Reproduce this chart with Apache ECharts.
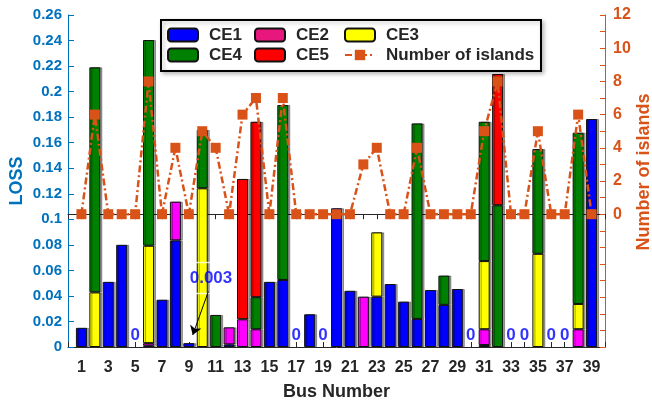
<!DOCTYPE html>
<html>
<head>
<meta charset="utf-8">
<script src="https://cdn.jsdelivr.net/npm/echarts@6/dist/echarts.min.js"></script>
<style>
  html, body { margin: 0; padding: 0; background: #fff; }
  #chart { width: 652px; height: 404px; }
</style>
</head>
<body>
<div id="chart"></div>
<script>
// bus numbers on the x axis
const buses = [1, 2, 3, 4, 5, 6, 7, 8, 9, 10, 11, 12, 13, 14, 15, 16, 17, 18, 19, 20,
  21, 22, 23, 24, 25, 26, 27, 28, 29, 30, 31, 32, 33, 34, 35, 36, 37, 38, 39]

// stacked loss segments per bus (CE1 at the bottom ... CE5 on top)
const ce1 = [0.015, 0, 0.051, 0.080, 0, 0.001, 0.037, 0.0835, 0.003, 0, 0, 0.002, 0, 0, 0.051, 0.0525, 0, 0.0256, 0, 0.1086,
  0.044, 0, 0.0394, 0.0493, 0.0355, 0.022, 0.0446, 0.033, 0.0454, 0, 0.0015, 0, 0, 0, 0, 0, 0, 0, 0.1785]
const ce2 = [0, 0, 0, 0, 0, 0.002, 0, 0.0303, 0, 0, 0, 0.0134, 0.0217, 0.0139, 0, 0, 0, 0, 0, 0,
  0, 0.0394, 0, 0, 0, 0, 0, 0, 0, 0, 0.0124, 0, 0, 0, 0, 0, 0, 0.0139, 0]
const ce3 = [0, 0.0428, 0, 0, 0, 0.0763, 0, 0, 0, 0.1243, 0, 0, 0, 0, 0, 0, 0, 0, 0, 0,
  0, 0, 0.0504, 0, 0, 0, 0, 0, 0, 0, 0.0534, 0, 0, 0, 0.073, 0, 0, 0.0198, 0]
const ce4 = [0, 0.1762, 0, 0, 0, 0.1611, 0, 0, 0, 0.0457, 0.0251, 0, 0, 0.0251, 0, 0.137, 0, 0, 0, 0,
  0, 0, 0, 0, 0, 0.1531, 0, 0.0229, 0, 0, 0.1091, 0.111, 0, 0, 0.082, 0, 0, 0.1341, 0]
const ce5 = [0, 0, 0, 0, 0, 0, 0, 0, 0, 0, 0, 0, 0.1099, 0.1374, 0, 0, 0, 0, 0, 0,
  0, 0, 0, 0, 0, 0, 0, 0, 0, 0, 0, 0.1028, 0, 0, 0, 0, 0, 0, 0]

// number of islands per bus (right axis)
const islands = [0, 6, 0, 0, 0, 8, 0, 4, 0, 5, 4, 0, 6, 7, 0, 7, 0, 0, 0, 0,
  0, 3, 4, 0, 0, 4, 0, 0, 0, 0, 5, 8, 0, 0, 5, 0, 0, 6, 0]

// buses annotated with a "0" loss
const zeroBuses = [5, 17, 19, 30, 33, 34, 36, 37]
const bus9Loss = 0.003

const FONT = "'Liberation Sans', Arial, sans-serif"
const BLUE_AXIS = '#0072BD'
const ORANGE = '#D95319'

const chart = echarts.init(document.getElementById('chart'))

// axis runs 0..40 so the buses sit on ticks 1..39
const cats = ['0', ...buses.map(String), '40']
const pad = arr => [null, ...arr.map(v => (v === 0 ? null : v)), null]

const barSeries = (name, values, color) => ({
  name,
  type: 'bar',
  stack: 'loss',
  barWidth: 11,
  data: pad(values),
  itemStyle: {
    color,
    borderColor: '#111',
    borderWidth: 1,
    shadowColor: 'rgba(0,0,0,0.35)',
    shadowOffsetX: 2
  }
})

// three legend columns inside one framed box
const legendCol = (left, names) => ({
  orient: 'vertical',
  left,
  top: 25,
  padding: 0,
  itemWidth: 30,
  itemHeight: 13,
  itemGap: 0,
  textStyle: {
    fontFamily: FONT, fontWeight: 'bold', fontSize: 17, color: '#262626',
    lineHeight: 20, padding: [0, 0, 0, 6]
  },
  data: names
})

const option = {
  animation: false,
  backgroundColor: '#fff',
  grid: { left: 68, right: 47, top: 15, bottom: 57, containLabel: false, outerBoundsMode: 'none' },
  graphic: [{
    type: 'rect',
    left: 160,
    top: 19,
    z: 3,
    shape: { width: 380, height: 51 },
    style: {
      fill: '#fff', stroke: '#000', lineWidth: 2,
      shadowColor: 'rgba(0,0,0,0.25)', shadowBlur: 4, shadowOffsetX: 2, shadowOffsetY: 2
    }
  }],
  legend: [
    legendCol(167, ['CE1', 'CE4']),
    legendCol(254, [{ name: 'CE2', itemStyle: { color: '#E8177D' } }, 'CE5']),
    legendCol(344, ['CE3', 'Number of islands'])
  ],
  xAxis: [
    {
      type: 'category',
      data: cats,
      boundaryGap: false,
      name: 'Bus Number',
      nameLocation: 'middle',
      nameGap: 36,
      nameMoveOverlap: false,
      nameTextStyle: { fontFamily: FONT, fontWeight: 'bold', fontSize: 18, color: '#262626' },
      axisLine: { lineStyle: { color: '#262626', width: 1 } },
      axisTick: { inside: true, length: 5, interval: 0, lineStyle: { color: '#262626' } },
      axisLabel: {
        interval: (i) => i % 2 === 1 && i < 40,
        margin: 13,
        fontFamily: FONT, fontWeight: 'bold', fontSize: 16, color: '#262626'
      }
    },
    {
      // mirrored top frame, also used for the 0.003 annotation
      type: 'value',
      position: 'top',
      min: 0,
      max: 40,
      interval: 1,
      axisLine: { show: true, lineStyle: { color: '#262626', width: 1 } },
      axisTick: { show: true, inside: true, length: 5, lineStyle: { color: '#262626' } },
      axisLabel: { show: false },
      splitLine: { show: false }
    }
  ],
  yAxis: [
    {
      type: 'value',
      min: 0,
      max: 0.26,
      interval: 0.02,
      name: 'LOSS',
      nameLocation: 'middle',
      nameRotate: 90,
      nameGap: 42,
      nameMoveOverlap: false,
      nameTextStyle: { fontFamily: FONT, fontWeight: 'bold', fontSize: 18, color: BLUE_AXIS },
      axisLine: { show: true, lineStyle: { color: BLUE_AXIS, width: 1 } },
      axisTick: { show: true, inside: true, length: 6, lineStyle: { color: BLUE_AXIS } },
      axisLabel: {
        margin: 6,
        formatter: v => String(+v.toFixed(2)),
        fontFamily: FONT, fontWeight: 'bold', fontSize: 15, color: BLUE_AXIS
      },
      splitLine: { show: false }
    },
    {
      type: 'value',
      min: -8,
      max: 12,
      interval: 1,
      position: 'right',
      name: 'Number of islands',
      nameLocation: 'middle',
      nameRotate: 90,
      nameGap: 30,
      nameMoveOverlap: false,
      nameTextStyle: { fontFamily: FONT, fontWeight: 'bold', fontSize: 18, color: ORANGE, padding: [0, 0, 0, 18] },
      axisLine: { show: true, lineStyle: { color: ORANGE, width: 1 } },
      axisTick: { show: true, inside: true, length: 5, lineStyle: { color: ORANGE } },
      axisLabel: {
        margin: 8,
        formatter: v => (v >= 0 && v % 2 === 0 ? String(v) : ''),
        fontFamily: FONT, fontWeight: 'bold', fontSize: 16, color: ORANGE
      },
      splitLine: { show: false }
    }
  ],
  series: [
    barSeries('CE1', ce1, '#0000FF'),
    barSeries('CE2', ce2, '#FF00FF'),
    barSeries('CE3', ce3, '#FFFF00'),
    barSeries('CE4', ce4, '#008000'),
    barSeries('CE5', ce5, '#FF0000'),
    {
      name: 'Number of islands',
      type: 'line',
      yAxisIndex: 1,
      data: [null, ...islands, null],
      symbol: 'rect',
      symbolSize: 10,
      showAllSymbol: true,
      z: 2,
      itemStyle: { color: ORANGE },
      lineStyle: { color: ORANGE, width: 2.5, type: [7, 3, 2, 3] }
    },
    {
      // "0" labels for buses without loss
      type: 'scatter',
      symbolSize: 0,
      silent: true,
      z: 2,
      data: zeroBuses.map(b => [String(b), 0]),
      label: {
        show: true, position: 'top', distance: 3, formatter: '0',
        fontFamily: FONT, fontWeight: 'bold', fontSize: 17, color: '#0000FF'
      }
    },
    {
      // 0.003 callout for bus 9
      type: 'scatter',
      xAxisIndex: 1,
      symbolSize: 0,
      silent: true,
      z: 2,
      data: [[10.65, 0.054]],
      label: {
        show: true, position: 'inside', formatter: () => String(bus9Loss),
        fontFamily: FONT, fontWeight: 'bold', fontSize: 17, color: '#0000FF',
        borderColor: '#fff', borderWidth: 1.5, padding: [7, 2]
      },
      markLine: {
        silent: true,
        symbol: ['none', 'arrow'],
        symbolSize: 9,
        label: { show: false },
        lineStyle: { color: '#000', width: 1, type: 'solid' },
        data: [[{ coord: [10.45, 0.0433] }, { coord: [9.29, 0.0094] }]]
      }
    }
  ]
}

chart.setOption(option)
</script>
</body>
</html>
